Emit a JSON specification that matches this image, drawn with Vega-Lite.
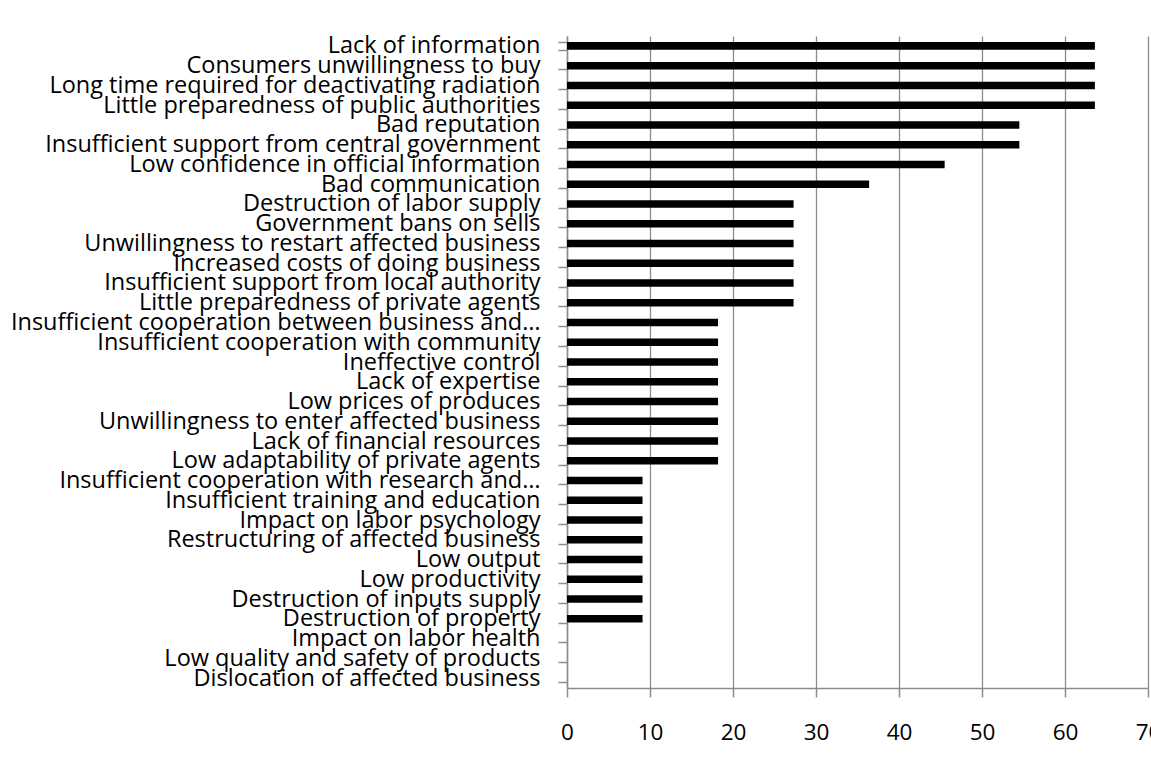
{
  "$schema": "https://vega.github.io/schema/vega-lite/v6.json",
  "autosize": {"type": "none"},
  "width": 581,
  "height": 652,
  "padding": {"left": 567, "top": 36, "right": 3, "bottom": 82},
  "background": "white",
  "config": {
    "view": {"stroke": null},
    "font": "Open Sans"
  },
  "data": {
    "values": [
      {"factor": "Lack of information", "value": 63.6},
      {"factor": "Consumers unwillingness to buy", "value": 63.6},
      {"factor": "Long time required for deactivating radiation ", "value": 63.6},
      {"factor": "Little preparedness of public authorities", "value": 63.6},
      {"factor": "Bad reputation", "value": 54.5},
      {"factor": "Insufficient support from central government", "value": 54.5},
      {"factor": "Low confidence in official information", "value": 45.5},
      {"factor": "Bad communication", "value": 36.4},
      {"factor": "Destruction of labor supply", "value": 27.3},
      {"factor": "Government bans on sells", "value": 27.3},
      {"factor": "Unwillingness to restart affected business", "value": 27.3},
      {"factor": "Increased costs of doing business", "value": 27.3},
      {"factor": "Insufficient support from local authority", "value": 27.3},
      {"factor": "Little preparedness of private agents", "value": 27.3},
      {"factor": "Insufficient cooperation between business and…", "value": 18.2},
      {"factor": "Insufficient cooperation with community", "value": 18.2},
      {"factor": "Ineffective control ", "value": 18.2},
      {"factor": "Lack of expertise", "value": 18.2},
      {"factor": "Low prices of produces", "value": 18.2},
      {"factor": "Unwillingness to enter affected business", "value": 18.2},
      {"factor": "Lack of financial resources", "value": 18.2},
      {"factor": "Low adaptability of private agents", "value": 18.2},
      {"factor": "Insufficient cooperation with research and…", "value": 9.1},
      {"factor": "Insufficient training and education", "value": 9.1},
      {"factor": "Impact on labor psychology", "value": 9.1},
      {"factor": "Restructuring of affected business", "value": 9.1},
      {"factor": "Low output", "value": 9.1},
      {"factor": "Low productivity", "value": 9.1},
      {"factor": "Destruction of inputs supply", "value": 9.1},
      {"factor": "Destruction of property", "value": 9.1},
      {"factor": "Impact on labor health", "value": 0},
      {"factor": "Low quality and safety of products", "value": 0},
      {"factor": "Dislocation of affected business", "value": 0}
    ]
  },
  "mark": {"type": "bar", "color": "black"},
  "encoding": {
    "y": {
      "field": "factor",
      "type": "nominal",
      "sort": null,
      "title": null,
      "scale": {"paddingInner": 0.62, "paddingOuter": 0.31},
      "axis": {
        "tickBand": "extent",
        "domainColor": "#8c8c8c",
        "domainWidth": 1.5,
        "tickColor": "#8c8c8c",
        "tickWidth": 1.5,
        "tickSize": 9,
        "labelPadding": 18,
        "labelFont": "Open Sans",
        "labelFontSize": 23.5,
        "labelColor": "black",
        "labelLimit": 0,
        "labelOverlap": false,
        "labelBaseline": "middle"
      }
    },
    "x": {
      "field": "value",
      "type": "quantitative",
      "title": null,
      "scale": {"domain": [0, 70], "nice": false},
      "axis": {
        "values": [0, 10, 20, 30, 40, 50, 60, 70],
        "grid": true,
        "gridColor": "#8c8c8c",
        "gridWidth": 1.3,
        "domainColor": "#8c8c8c",
        "domainWidth": 1.5,
        "tickColor": "#8c8c8c",
        "tickWidth": 1.5,
        "tickSize": 9,
        "labelPadding": 24,
        "labelFont": "Open Sans",
        "labelFontSize": 22.5,
        "labelColor": "black",
        "labelFlush": false,
        "labelOverlap": false
      }
    }
  }
}
